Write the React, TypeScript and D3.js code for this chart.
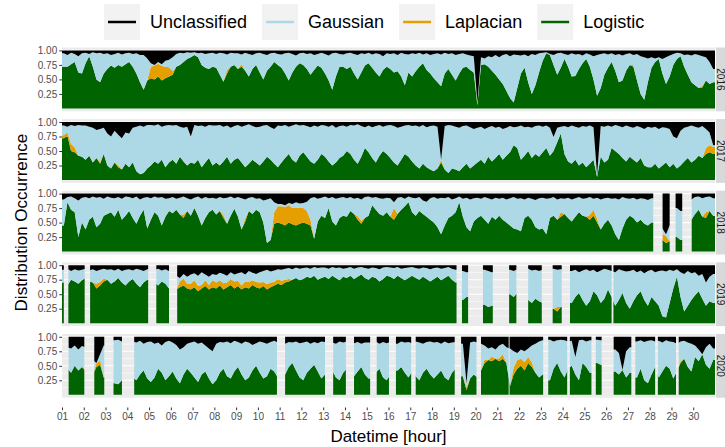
import { useRef, useEffect } from "react";
import * as d3 from "d3";

// 4-hour bins, 6 per day, 30 days -> 180 values per year (percent of hour)
const BIN_HOURS = 4;
const TOTAL_HOURS = 720;

const YEARS = ["2016", "2017", "2018", "2019", "2020"];
const SERIES = ["Unclassified", "Gaussian", "Laplacian", "Logistic"];
const COLORS: Record<string, string> = {
  Unclassified: "#000000",
  Gaussian: "#ADD8E6",
  Laplacian: "#E69F00",
  Logistic: "#006400",
};
const DAY_LABELS = [
  "01", "02", "03", "04", "05", "06", "07", "08", "09", "10",
  "11", "12", "13", "14", "15", "16", "17", "18", "19", "20",
  "21", "22", "23", "24", "25", "26", "27", "28", "29", "30",
];
const Y_TICKS = [0.25, 0.5, 0.75, 1.0];
const Y_MINOR = [0.125, 0.375, 0.625, 0.875];

const logistic2016 = [
  72, 72, 76, 80, 62, 60, 78, 90, 72, 50, 45, 60,
  68, 74, 70, 75, 72, 76, 80, 72, 60, 45, 32, 48,
  52, 50, 55, 48, 52, 55, 58, 72, 75, 80, 85, 88,
  92, 88, 75, 70, 68, 72, 70, 58, 46, 60, 72, 75,
  68, 72, 65, 55, 68, 75, 62, 50, 65, 72, 80, 75,
  70, 60, 48, 62, 72, 78, 75, 68, 58, 66, 74, 70,
  60, 48, 32, 55, 72, 72, 68, 72, 60, 50, 62, 74,
  78, 70, 62, 55, 66, 72, 68, 62, 64, 55, 40, 62,
  55, 64, 72, 78, 66, 60, 52, 45, 38, 60, 68, 58,
  48, 60, 70, 72, 66, 62, 5, 75, 76, 72, 65, 58,
  50, 42, 30, 18, 10, 35, 60, 70, 45, 25, 40, 62,
  82, 95, 92, 75, 58, 70, 85, 72, 55, 56, 68, 78,
  85, 72, 50, 22, 35, 58, 70, 80, 65, 45, 48, 65,
  75, 72, 48, 25, 15, 45, 70, 80, 85, 60, 42, 55,
  75, 85, 90, 72, 58, 45, 40, 35, 36, 48, 42, 45,
];
const unclassified2016 = [
  5, 8, 4, 6, 10, 5, 4, 6, 3, 5, 4, 6,
  5, 8, 6, 4, 7, 5, 4, 6, 5, 8, 8, 14,
  22, 25, 20, 24, 18, 16, 12, 6, 4, 5, 3, 4,
  3, 5, 4, 6, 5, 4, 6, 4, 5, 7, 4, 5,
  5, 7, 4, 6, 8, 5, 4, 6, 8, 5, 4, 6,
  7, 5, 4, 6, 9, 5, 4, 6, 5, 8, 6, 4,
  6, 9, 5, 4, 6, 7, 5, 4, 6, 8, 5, 6,
  4, 7, 5, 6, 10, 5, 6, 5, 8, 4, 6, 7,
  5, 6, 4, 7, 5, 8, 6, 5, 7, 4, 6, 5,
  8, 6, 5, 7, 9, 10, 90, 12, 14, 10, 12, 8,
  12, 8, 6, 10, 7, 8, 9, 7, 10, 6, 8, 5,
  4, 3, 6, 8, 5, 4, 6, 8, 5, 7, 6, 9,
  5, 7, 10, 8, 6, 5, 7, 5, 8, 6, 9, 6,
  5, 8, 6, 10, 12, 14, 12, 14, 12, 15, 12, 9,
  6, 4, 5, 8, 7, 9, 6, 8, 10, 12, 20, 32,
];
const laplacian2016 = [
  [24, 20], [25, 24], [26, 22], [27, 25], [28, 20], [29, 16], [30, 6],
  [45, 6], [49, 4], [114, 3], [157, 3], [176, 3],
];
const gaps2016: number[][] = [];

const logistic2017 = [
  72, 76, 50, 48, 42, 40, 35, 42, 30, 38, 28, 45,
  25, 20, 30, 22, 18, 28, 22, 30, 15, 10, 12, 20,
  25, 32, 28, 35, 22, 30, 35, 28, 40, 32, 25, 30,
  28, 35, 22, 30, 38, 25, 30, 25, 32, 40, 28, 35,
  38, 30, 22, 28, 35, 30, 25, 32, 40, 35, 28, 22,
  30, 38, 45, 35, 30, 42, 48, 40, 32, 28, 35, 45,
  40, 32, 25, 30, 38, 42, 50, 45, 35, 28, 40, 55,
  48, 38, 30, 42, 50, 45, 38, 30, 25, 35, 45, 40,
  32, 25, 20, 28, 22, 18, 15, 20, 30, 18, 12, 20,
  18, 15, 22, 28, 20, 25, 30, 35, 28, 40, 32, 38,
  45, 35, 42, 48, 60, 55, 35, 42, 50, 38, 45, 40,
  48, 55, 42, 50, 65, 80, 45, 32, 28, 35, 25, 30,
  22, 28, 35, 5, 40, 30, 35, 55, 50, 45, 38, 32,
  40, 35, 30, 38, 25, 22, 22, 28, 20, 25, 30, 22,
  28, 20, 25, 32, 38, 30, 35, 42, 38, 45, 48, 45,
];
const unclassified2017 = [
  6, 8, 5, 7, 5, 6, 6, 8, 10, 14, 12, 10,
  20, 25, 15, 22, 28, 18, 20, 10, 8, 6, 8, 5,
  5, 6, 4, 8, 6, 5, 6, 5, 8, 10, 8, 25,
  5, 7, 6, 8, 5, 6, 6, 5, 8, 6, 10, 7,
  5, 8, 6, 4, 7, 9, 8, 6, 5, 9, 12, 6,
  7, 5, 8, 6, 4, 6, 5, 7, 9, 6, 8, 5,
  6, 8, 5, 10, 7, 6, 8, 5, 6, 4, 7, 9,
  6, 9, 7, 5, 8, 6, 5, 7, 10, 8, 6, 5,
  7, 6, 8, 5, 9, 7, 6, 8, 65, 7, 5, 6,
  8, 10, 7, 6, 9, 12, 10, 8, 12, 9, 7, 10,
  8, 12, 10, 7, 9, 8, 6, 9, 8, 10, 7, 6,
  8, 6, 10, 26, 10, 8, 7, 9, 6, 8, 10, 7,
  8, 6, 9, 92, 7, 8, 6, 8, 5, 7, 9, 6,
  8, 10, 7, 9, 12, 8, 10, 8, 12, 9, 10, 12,
  25, 28, 15, 10, 8, 6, 8, 10, 7, 12, 18, 40,
];
const laplacian2017 = [
  [0, 5], [1, 6], [2, 12], [3, 8], [10, 3], [15, 3], [104, 5],
  [177, 10], [178, 12], [179, 12],
];
const gaps2017: number[][] = [];

const logistic2018 = [
  45, 85, 72, 68, 25, 50, 38, 55, 60, 42, 48, 62,
  65, 68, 60, 72, 55, 62, 70, 58, 48, 62, 72, 40,
  55, 68, 62, 45, 60, 70, 66, 72, 64, 58, 70, 62,
  75, 62, 45, 58, 68, 72, 64, 70, 58, 48, 62, 74,
  60, 38, 52, 70, 65, 72, 68, 50, 15, 20, 48, 50,
  48, 45, 50, 47, 45, 48, 50, 48, 45, 22, 52, 62,
  58, 75, 52, 45, 58, 62, 60, 70, 65, 55, 48, 58,
  62, 80, 72, 65, 62, 68, 60, 55, 65, 72, 78, 85,
  68, 62, 70, 65, 60, 55, 50, 42, 30, 45, 58, 62,
  68, 85, 60, 42, 35, 52, 58, 62, 55, 48, 60, 55,
  62, 55, 50, 45, 40, 38, 35, 58, 62, 55, 42, 38,
  40, 30, 58, 62, 55, 60, 65, 58, 52, 60, 68, 62,
  60, 55, 62, 50, 38, 48, 55, 45, 30, 20, 40, 55,
  62, 58, 50, 55, 48, 45, 50, null, null, 20, 15, 18,
  null, 25, 20, null, null, 55, 65, 72, 60, 58, 70, 62,
];
const unclassified2018 = [
  10, 6, 5, 8, 12, 7, 6, 8, 5, 7, 6, 9,
  5, 7, 8, 6, 9, 5, 6, 8, 5, 10, 7, 6,
  8, 5, 7, 6, 9, 8, 6, 9, 7, 5, 8, 10,
  7, 5, 9, 6, 8, 7, 9, 6, 8, 7, 5, 8,
  6, 8, 10, 7, 6, 9, 8, 12, 10, 8, 15, 18,
  18, 20, 16, 18, 15, 17, 16, 14, 8, 6, 9, 7,
  5, 8, 6, 9, 7, 6, 8, 6, 9, 7, 10, 6,
  5, 7, 6, 8, 9, 7, 8, 15, 7, 6, 9, 5,
  7, 8, 6, 12, 14, 8, 6, 9, 7, 8, 6, 10,
  8, 5, 9, 7, 10, 8, 7, 9, 6, 8, 10, 7,
  9, 7, 10, 8, 6, 9, 8, 10, 7, 9, 11, 8,
  7, 9, 8, 6, 10, 8, 9, 7, 10, 8, 6, 9,
  8, 6, 9, 7, 10, 8, 7, 9, 8, 10, 6, 8,
  9, 7, 10, 8, 9, 11, 8, null, null, 60, 70, 55,
  null, 25, 30, null, null, 10, 6, 5, 8, 6, 5, 8,
];
const laplacian2018 = [
  [33, 6], [44, 5], [50, 5], [58, 20], [59, 28], [60, 30], [61, 32],
  [62, 30], [63, 28], [64, 30], [65, 28], [66, 25], [67, 22], [68, 10],
  [81, 6], [82, 5], [91, 20], [137, 8], [145, 8], [146, 10], [147, 6],
  [165, 10], [166, 12], [177, 10],
];
const gaps2018 = [[652.4, 662.2], [670, 676.5], [684.3, 694.3]];

const logistic2019 = [
  70, 65, 75, 72, 68, 74, 78, 72, 70, 60, 65, 72,
  75, 68, 72, 78, 70, 65, 72, 76, 68, 62, 70, 75,
  null, 70, 65, 72, 68, 60, null, 58, 62, 65, 60, 58,
  62, 55, 60, 64, 58, 62, 60, 65, 58, 62, 66, 60,
  64, 58, 62, 60, 66, 62, 60, 64, 58, 62, 65, 68,
  66, 70, 72, 75, 78, 74, 76, 80, 78, 82, 75, 78,
  80, 76, 82, 78, 74, 80, 78, 82, 76, 80, 84, 78,
  75, 80, 78, 72, 76, 82, 80, 76, 82, 78, 74, 78,
  82, 78, 75, 80, 76, 72, 76, 80, 74, 78, 82, 75,
  70, null, 40, 45, null, null, null, null, 32, 28, 30, null,
  null, null, null, 50, 45, 52, null, null, 40, 35, 42, 38,
  35, null, null, 25, 20, 28, null, null, 35, 45, 52, 40,
  30, 38, 55, 48, 35, 42, 58, 45, 30, 40, 52, 35,
  25, 38, 48, 55, 40, 30, 45, 38, 30, 12, 10, 35,
  60, 80, 45, 20, 30, 40, 48, 55, 42, 30, 38, 35,
];
const unclassified2019 = [
  8, 6, 10, 7, 9, 8, 6, 9, 7, 10, 8, 6,
  8, 7, 9, 6, 10, 8, 7, 9, 6, 8, 10, 7,
  null, 8, 6, 9, 7, 10, null, 18, 22, 15, 20, 16,
  14, 18, 12, 16, 20, 15, 17, 13, 15, 18, 12, 16,
  14, 12, 16, 10, 13, 15, 12, 10, 8, 11, 9, 7,
  8, 6, 5, 7, 4, 6, 5, 4, 6, 3, 5, 4,
  4, 6, 3, 5, 4, 6, 5, 3, 6, 4, 3, 5,
  6, 4, 5, 7, 4, 3, 4, 5, 3, 6, 5, 4,
  3, 5, 6, 4, 5, 7, 5, 4, 6, 5, 3, 6,
  8, null, 10, 12, null, null, null, null, 8, 10, 12, null,
  null, null, null, 8, 10, 7, null, null, 6, 9, 8, 10,
  8, null, null, 6, 8, 7, null, null, 10, 8, 12, 9,
  7, 10, 8, 12, 9, 6, 8, 10, 12, 7, 9, 11,
  10, 8, 12, 9, 14, 10, 8, 12, 10, 9, 11, 8,
  10, 7, 12, 15, 10, 14, 12, 18, 15, 30, 20, 15,
];
const laplacian2019 = [
  [9, 8], [10, 6], [11, 5], [32, 10], [33, 12], [34, 8], [35, 10],
  [36, 12], [37, 9], [38, 6], [39, 10], [40, 8], [41, 12], [42, 10],
  [43, 9], [44, 11], [45, 8], [46, 10], [47, 12], [48, 9], [49, 7],
  [50, 10], [51, 11], [52, 8], [53, 9], [54, 10], [55, 7], [56, 9],
  [57, 8], [58, 6], [59, 8], [60, 7], [61, 5], [62, 4], [136, 8],
];
const gaps2019 = [
  [2, 7], [25, 31], [95, 104], [118, 127], [435, 441], [448, 464],
  [475, 493], [501, 514], [529, 541], [551, 560], [606, 608],
];

const logistic2020 = [
  null, 45, 38, 50, 42, 48, 40, null, 35, 48, 52, 30,
  null, null, 20, 18, 25, null, null, 30, 25, 35, 42, 28,
  22, 30, 45, 38, 25, 32, 40, 28, 20, 35, 45, 38,
  30, 22, 35, 40, 28, 18, 25, 38, 45, 32, 28, 40,
  48, 35, 25, 30, 42, 50, 38, 28, 32, 45, 40, 30,
  null, 35, 48, 55, 42, 30, 25, 38, 45, 52, 40, 28,
  35, null, 42, 30, 25, 38, 45, null, 32, 40, 48, 35,
  28, null, 38, 45, 30, 25, 35, null, 42, 48, 38, 30,
  40, 32, 25, 38, 45, 35, 28, 35, 42, 30, 25, 38,
  45, null, 32, 8, 28, 35, 30, 42, 55, 60, 58, 62,
  58, 62, 55, 15, 35, 45, 50, 42, 55, 48, 38, 30,
  35, null, 25, 45, 55, 40, 30, 45, 50, 35, 25, 55,
  48, 38, null, 55, 52, null, null, null, 40, 35, 45, 30,
  38, null, 30, 45, 25, 20, 35, 48, 30, 40, 50, 45,
  28, 40, 55, 62, 48, 40, 65, 58, 70, 52, 45, 60,
];
const unclassified2020 = [
  null, 18, 20, 15, 22, 16, 18, null, 40, 45, 30, 15,
  null, null, 6, 5, 8, null, null, 8, 10, 7, 12, 9,
  8, 12, 10, 15, 9, 7, 10, 14, 22, 18, 12, 10,
  8, 12, 10, 15, 20, 25, 12, 9, 10, 8, 11, 7,
  9, 12, 8, 10, 14, 11, 8, 10, 12, 9, 7, 10,
  null, 12, 9, 10, 8, 11, 10, 8, 12, 9, 11, 8,
  9, null, 10, 12, 8, 10, 8, null, 11, 9, 12, 10,
  10, null, 8, 12, 9, 11, 9, null, 12, 8, 10, 9,
  11, 8, 10, 12, 9, 8, 10, 9, 12, 8, 11, 10,
  9, null, 12, 80, 10, 8, 10, 12, 15, 20, 18, 22,
  15, 12, 18, 20, 25, 28, 22, 25, 20, 15, 12, 8,
  6, null, 5, 8, 6, 5, 6, 8, 7, 35, 6, 5,
  8, 6, null, 5, 6, null, null, null, 22, 28, 60, 25,
  18, null, 8, 6, 9, 7, 6, 8, 7, 10, 6, 8,
  9, 12, 8, 7, 10, 12, 15, 22, 30, 18, 12, 20,
];
const laplacian2020 = [
  [6, 5], [9, 6], [10, 8], [111, 5], [116, 6], [118, 8], [120, 5],
  [121, 8], [124, 12], [125, 15], [126, 12], [127, 14], [128, 10],
  [129, 8], [170, 3],
];
const gaps2020 = [
  [0, 7.3], [24.6, 35.6], [46.6, 56.8], [66.1, 79.6], [237, 246],
  [290, 299], [313, 322], [340, 347], [360.5, 368], [385, 390],
  [433, 440], [457, 462], [492.5, 493.5], [530.5, 536], [557, 560],
  [584, 588.5], [595, 608], [628, 632], [654, 657], [677, 680],
];

const PANELS = [
  { logistic: logistic2016, unclassified: unclassified2016, laplacian: laplacian2016, gaps: gaps2016 },
  { logistic: logistic2017, unclassified: unclassified2017, laplacian: laplacian2017, gaps: gaps2017 },
  { logistic: logistic2018, unclassified: unclassified2018, laplacian: laplacian2018, gaps: gaps2018 },
  { logistic: logistic2019, unclassified: unclassified2019, laplacian: laplacian2019, gaps: gaps2019 },
  { logistic: logistic2020, unclassified: unclassified2020, laplacian: laplacian2020, gaps: gaps2020 },
].map((p, i) => ({ ...p, year: YEARS[i] }));

const FONT = '"Liberation Sans", Arial, Helvetica, sans-serif';
const W = 725;
const H = 447;
const X0 = 62;
const X1 = 715;
const PANEL_TOP = 47.5;
const PANEL_STEP = 71.6;
const PANEL_H = 63.8;

type Pt = { t: number; y0: number; y1: number };

export default function App() {
  const svgRef = useRef<SVGSVGElement>(null);

  useEffect(() => {
    if (!svgRef.current) return;
    const svg = d3.select(svgRef.current);
    svg.selectAll("*").remove();
    const defs = svg.append("defs");

    const x = d3.scaleLinear().domain([0, TOTAL_HOURS]).range([X0, X1]);
    const stackKeys = ["Logistic", "Laplacian", "Gaussian", "Unclassified"];
    const stack = d3.stack<any>().keys(stackKeys);

    PANELS.forEach((p, i) => {
      const top = PANEL_TOP + i * PANEL_STEP;
      const y = d3.scaleLinear().domain([-0.05, 1.05]).range([top + PANEL_H, top]);
      const g = svg.append("g");

      g.append("rect")
        .attr("x", X0).attr("y", top)
        .attr("width", X1 - X0).attr("height", PANEL_H)
        .attr("fill", "#EBEBEB");

      g.selectAll(".minor").data(Y_MINOR).join("line")
        .attr("x1", X0).attr("x2", X1)
        .attr("y1", (d) => y(d)).attr("y2", (d) => y(d))
        .attr("stroke", "#fff").attr("stroke-width", 0.55);
      g.selectAll(".major").data(Y_TICKS).join("line")
        .attr("x1", X0).attr("x2", X1)
        .attr("y1", (d) => y(d)).attr("y2", (d) => y(d))
        .attr("stroke", "#fff").attr("stroke-width", 1.07);

      // clip away the hours with no data
      const present: number[][] = [];
      let cursor = 0;
      [...p.gaps].sort((a, b) => a[0] - b[0]).forEach(([s, e]) => {
        if (s > cursor) present.push([cursor, s]);
        cursor = Math.max(cursor, e);
      });
      if (cursor < TOTAL_HOURS) present.push([cursor, TOTAL_HOURS]);
      const clipId = `clip-${p.year}`;
      defs.append("clipPath").attr("id", clipId)
        .selectAll("rect").data(present).join("rect")
        .attr("x", (d) => x(d[0])).attr("width", (d) => x(d[1]) - x(d[0]))
        .attr("y", top).attr("height", PANEL_H);

      const lap = new Map(p.laplacian.map(([b, v]) => [b, v]));
      const rows: any[] = [];
      p.logistic.forEach((v, b) => {
        if (v == null) return;
        const lo = v;
        const la = lap.get(b) ?? 0;
        const un = p.unclassified[b] ?? 0;
        const ga = Math.max(0, 100 - lo - la - un);
        const tot = Math.max(100, lo + la + un + ga);
        rows.push({
          b, t: b * BIN_HOURS,
          Logistic: lo / tot, Laplacian: la / tot,
          Gaussian: ga / tot, Unclassified: un / tot,
        });
      });

      // contiguous runs of recorded bins
      const runs: number[][] = [];
      rows.forEach((r, k) => {
        if (k === 0 || r.b !== rows[k - 1].b + 1) runs.push([]);
        runs[runs.length - 1].push(k);
      });

      const area = d3.area<Pt>()
        .x((d) => x(d.t))
        .y0((d) => y(d.y0))
        .y1((d) => y(d.y1));

      const dg = g.append("g").attr("clip-path", `url(#${clipId})`);
      stack(rows).forEach((s) => {
        const d = runs.map((run) => {
          const a = run[0];
          const z = run[run.length - 1];
          const pts: Pt[] = [{ t: rows[a].t, y0: s[a][0], y1: s[a][1] }];
          run.forEach((k) => pts.push({ t: rows[k].t + BIN_HOURS / 2, y0: s[k][0], y1: s[k][1] }));
          pts.push({ t: rows[z].t + BIN_HOURS, y0: s[z][0], y1: s[z][1] });
          return area(pts);
        }).join("");
        dg.append("path").attr("d", d).attr("fill", COLORS[s.key]);
      });

      const ax = g.append("g").attr("transform", `translate(${X0},0)`)
        .call(d3.axisLeft(y).tickValues(Y_TICKS).tickFormat(d3.format(".2f")).tickSize(2.75).tickPadding(2));
      ax.select(".domain").remove();
      ax.selectAll("line").attr("stroke", "#333333");
      ax.selectAll("text").attr("fill", "#4D4D4D")
        .style("font-size", "10px").style("font-family", FONT);

      // facet strip
      g.append("rect")
        .attr("x", 716).attr("y", top)
        .attr("width", 20).attr("height", PANEL_H)
        .attr("fill", "#D9D9D9");
      g.append("text")
        .attr("transform", `translate(720.5,${top + PANEL_H / 2}) rotate(90)`)
        .attr("text-anchor", "middle")
        .attr("dominant-baseline", "central")
        .style("font-size", "10px").style("font-family", FONT)
        .attr("fill", "#1A1A1A")
        .text(p.year);
    });

    // x axis
    const xa = svg.append("g").attr("transform", "translate(0,407.5)")
      .call(d3.axisBottom(x)
        .tickValues(DAY_LABELS.map((_, i) => i * 24))
        .tickFormat((_, i) => DAY_LABELS[i])
        .tickSize(2.75).tickPadding(3));
    xa.select(".domain").remove();
    xa.selectAll("line").attr("stroke", "#333333");
    xa.selectAll("text").attr("fill", "#4D4D4D")
      .style("font-size", "10px").style("font-family", FONT);

    svg.append("text")
      .attr("x", (X0 + X1) / 2).attr("y", 442)
      .attr("text-anchor", "middle")
      .style("font-size", "17px").style("font-family", FONT)
      .text("Datetime [hour]");

    svg.append("text")
      .attr("transform", `translate(27,${PANEL_TOP + (4 * PANEL_STEP + PANEL_H) / 2}) rotate(-90)`)
      .attr("text-anchor", "middle")
      .style("font-size", "17px").style("font-family", FONT)
      .text("Distribution Occurrence");

    // legend
    const leg = svg.append("g");
    let lx = 104;
    SERIES.forEach((name) => {
      leg.append("rect").attr("x", lx).attr("y", 4).attr("width", 36).attr("height", 36)
        .attr("fill", "#F2F2F2");
      leg.append("line").attr("x1", lx + 4).attr("x2", lx + 32)
        .attr("y1", 22).attr("y2", 22)
        .attr("stroke", COLORS[name]).attr("stroke-width", 2.5);
      const t = leg.append("text").attr("x", lx + 46).attr("y", 22)
        .attr("dominant-baseline", "central")
        .style("font-size", "18px").style("font-family", FONT)
        .text(name);
      const tw = (t.node() as SVGTextElement).getComputedTextLength();
      lx = lx + 46 + tw + 15;
    });
  }, []);

  return (
    <svg
      ref={svgRef}
      width={W}
      height={H}
      style={{ position: "absolute", left: 0, top: 0, background: "#fff" }}
    />
  );
}
